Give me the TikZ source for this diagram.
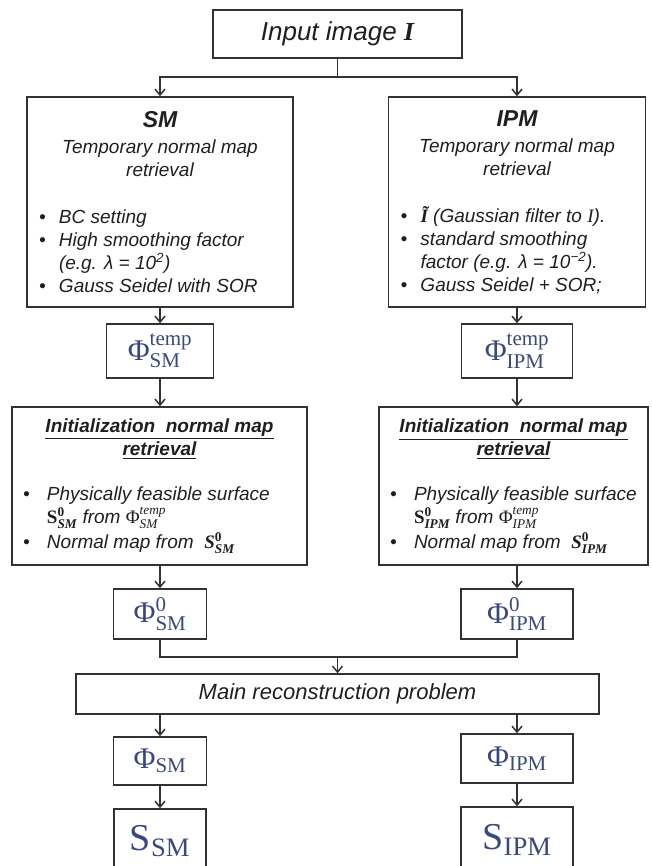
\RequirePackage{fix-cm}
\documentclass[tikz,border=0pt]{standalone}
\usepackage{amsmath}
\usepackage[no-math]{fontspec}
\setmainfont{Liberation Sans}
\newfontfamily\phifont{Liberation Serif}
\usetikzlibrary{arrows.meta}
\definecolor{phiblue}{RGB}{58,72,124}
\definecolor{linegray}{RGB}{50,50,50}
\newcommand{\headfont}{\bfseries\fontsize{23}{26}\selectfont}
\newcommand{\bul}[1][20pt]{\makebox[#1][l]{\textbullet}}
\newcommand{\ind}[1][20pt]{\hspace*{#1}}
\newcommand{\sr}[1]{\text{\phifont\upshape #1}}
\tikzset{
    box/.style={draw=linegray, line width=1.5pt, inner sep=0pt, text=black!88},
    bigbox/.style={box, align=left, inner xsep=12pt, font=\fontsize{19}{23}\selectfont\itshape},
    phibox/.style={box, text=phiblue, font=\fontsize{30}{34}\selectfont},
    sbox/.style={box, text=phiblue, font=\fontsize{38}{42}\selectfont},
    link/.style={draw=linegray, line width=1.5pt},
    arr/.style={link, -{Straight Barb[length=6pt,width=10pt]}}
}

\begin{document}
\begin{tikzpicture}[x=1pt,y=-1pt]
    \clip (0,0) rectangle (652,866);
    % input
    \node[box, minimum width=249pt, minimum height=48pt, font=\fontsize{26}{30}\selectfont\itshape] (input) at (337.5,34) {Input image {\phifont\bfseries I}};
    % temporary normal maps
    \node[bigbox, minimum height=210pt] (sm) at (160,202) {%
        \makebox[242pt]{\headfont SM}\\[3pt]
        \makebox[242pt]{Temporary normal map}\\
        \makebox[242pt]{retrieval}\\[24pt]
        \bul BC setting\\
        \bul High smoothing factor\\
        \ind (e.g. λ = 10\textsuperscript{2})\\
        \bul Gauss Seidel with SOR};
    \node[bigbox, minimum height=210pt] (ipm) at (517,202) {%
        \makebox[233pt]{\headfont IPM}\\[3pt]
        \makebox[233pt]{Temporary normal map}\\
        \makebox[233pt]{retrieval}\\[24pt]
        \bul {\phifont\bfseries Ĩ} (Gaussian filter to {\phifont I}).\\
        \bul standard smoothing\\
        \ind factor (e.g. λ = 10\textsuperscript{−2}).\\
        \bul Gauss Seidel + SOR;};
    \node[phibox, minimum width=107pt, minimum height=54pt] (tsm) at (160,351) {$\sr{Φ}^{\sr{temp}}_{\sr{SM}}$};
    \node[phibox, minimum width=111pt, minimum height=54pt] (tipm) at (517,351) {$\sr{Φ}^{\sr{temp}}_{\sr{IPM}}$};
    % initialization
    \node[bigbox, inner xsep=11pt, minimum height=158pt] (ism) at (159.5,486) {%
        \makebox[273pt]{\underline{\bfseries Initialization\ \ normal map}}\\
        \makebox[273pt]{\underline{\bfseries retrieval}}\\[22pt]
        \bul[24pt]Physically feasible surface\\
        \ind[24pt]$\sr{\bfseries S}^{\sr{\bfseries 0}}_{\sr{\bfseries\itshape SM}}$ from $\sr{Φ}^{\sr{\itshape temp}}_{\sr{\itshape SM}}$\\[2pt]
        \bul[24pt]Normal map from\ \ $\sr{\bfseries\itshape S}^{\sr{\bfseries 0}}_{\sr{\bfseries\itshape SM}}$};
    \node[bigbox, inner xsep=11pt, minimum height=158pt] (iipm) at (513.5,486) {%
        \makebox[247pt]{\underline{\bfseries Initialization\ \ normal map}}\\
        \makebox[247pt]{\underline{\bfseries retrieval}}\\[22pt]
        \bul[24pt]Physically feasible surface\\
        \ind[24pt]$\sr{\bfseries S}^{\sr{\bfseries 0}}_{\sr{\bfseries\itshape IPM}}$ from $\sr{Φ}^{\sr{\itshape temp}}_{\sr{\itshape IPM}}$\\[2pt]
        \bul[24pt]Normal map from\ \ $\sr{\bfseries\itshape S}^{\sr{\bfseries 0}}_{\sr{\bfseries\itshape IPM}}$};
    \node[phibox, minimum width=93pt, minimum height=50pt] (zsm) at (160,614) {$\sr{Φ}^{\sr{0}}_{\sr{SM}}$};
    \node[phibox, minimum width=112pt, minimum height=50pt] (zipm) at (517,614) {$\sr{Φ}^{\sr{0}}_{\sr{IPM}}$};
    % main problem and results
    \node[box, minimum width=523pt, minimum height=40pt, font=\fontsize{22}{26}\selectfont\itshape] (main) at (337.5,694) {Main reconstruction problem};
    \node[phibox, minimum width=93pt, minimum height=48pt] (fsm) at (160,761) {$\sr{Φ}_{\sr{SM}}$};
    \node[phibox, minimum width=112pt, minimum height=49pt] (fipm) at (517,758.5) {$\sr{Φ}_{\sr{IPM}}$};
    \node[sbox, minimum width=92pt, minimum height=64pt] (ssm) at (160,841) {$\sr{S}_{\sr{SM}}$};
    \node[sbox, minimum width=112pt, minimum height=66pt] (sipm) at (517,840) {$\sr{S}_{\sr{IPM}}$};
    % connectors
    \coordinate (fork) at (337.5,77);
    \coordinate (merge) at (337.5,657);
    \draw[link] (input) -- (fork);
    \draw[arr] (fork) -| (sm);
    \draw[arr] (fork) -| (ipm);
    \draw[arr] (sm) -- (tsm);
    \draw[arr] (ipm) -- (tipm);
    \draw[arr] (tsm) -- (tsm |- ism.north);
    \draw[arr] (tipm) -- (tipm |- iipm.north);
    \draw[arr] (ism.south -| zsm) -- (zsm);
    \draw[arr] (iipm.south -| zipm) -- (zipm);
    \draw[link] (zsm) |- (merge) -| (zipm);
    \draw[arr] (merge) -- (main);
    \draw[arr] (main.south -| fsm) -- (fsm);
    \draw[arr] (main.south -| fipm) -- (fipm);
    \draw[arr] (fsm) -- (ssm);
    \draw[arr] (fipm) -- (sipm);
\end{tikzpicture}
\end{document}
